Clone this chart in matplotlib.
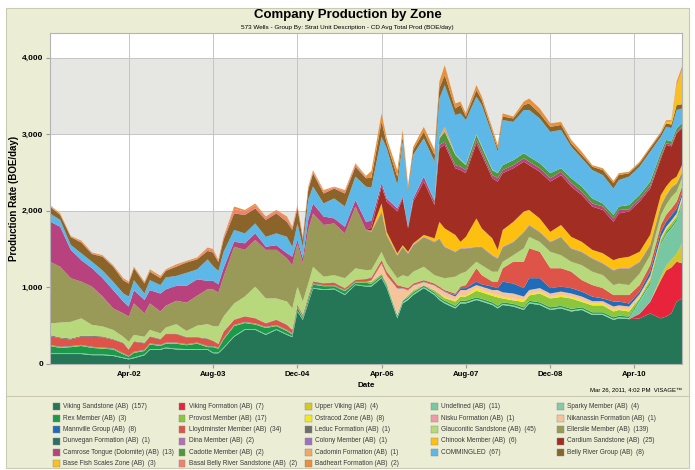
import pandas as pd
import matplotlib
matplotlib.use('Agg')
import matplotlib.pyplot as plt
from matplotlib.patches import Rectangle
from matplotlib.lines import Line2D
from matplotlib.ticker import FuncFormatter

plt.rcParams['font.family'] = ['Liberation Sans', 'DejaVu Sans']

# sample months (vertices of the stacked outline)
dates = ['2001-01', '2001-03', '2001-05', '2001-07', '2001-09', '2001-11', '2002-01', '2002-03', '2002-04', '2002-05',
         '2002-07', '2002-08', '2002-10', '2002-11', '2003-01', '2003-03', '2003-05', '2003-07', '2003-08', '2003-09',
         '2003-10', '2003-12', '2004-02', '2004-04', '2004-06', '2004-08', '2004-10', '2004-11', '2004-12', '2005-01',
         '2005-02', '2005-03', '2005-05', '2005-07', '2005-09', '2005-11', '2006-01', '2006-02', '2006-04', '2006-05',
         '2006-07', '2006-08', '2006-09', '2006-10', '2006-12', '2007-02', '2007-03', '2007-04', '2007-06', '2007-07',
         '2007-08', '2007-10', '2007-11', '2008-01', '2008-02', '2008-03', '2008-05', '2008-07', '2008-08', '2008-10',
         '2008-12', '2009-02', '2009-04', '2009-06', '2009-08', '2009-10', '2009-12', '2010-01', '2010-03', '2010-05',
         '2010-07', '2010-09', '2010-10', '2010-11', '2010-12', '2011-01']

# BOE/day per zone, stacked bottom -> top
viking_sandstone = [130, 130, 130, 130, 115, 115, 105, 75, 60, 75,
                    115, 185, 185, 205, 190, 185, 185, 185, 140, 140,
                    205, 355, 445, 445, 380, 445, 380, 350, 685, 575,
                    790, 985, 965, 975, 900, 1030, 1010, 1010, 1120, 990,
                    595, 790, 835, 900, 990, 900, 835, 790, 725, 790,
                    790, 835, 815, 770, 725, 770, 750, 705, 790, 770,
                    705, 725, 685, 705, 640, 640, 575, 595, 585, 595,
                    660, 595, 620, 660, 815, 855]
viking_formation = [0]*10 + [0]*10 + [0]*10 + [0]*10 + [0]*10 + [0]*10 + \
                   [0, 0, 0, 0, 0, 0, 0, 0, 0, 60] + [150, 500, 600, 600, 520, 460]
upper_viking = [0]*70 + [0, 45, 65, 105, 105, 260]
undefined = [10]*69 + [160, 220, 415, 400, 400, 420, 500]
sparky = [0]*37 + [5]*32 + [10]*7
rex = [95, 70, 80, 95, 85, 75, 75, 40, 25, 60,
       45, 60, 40, 50, 65, 50, 70, 25, 70, 50,
       105, 130, 80, 60, 80, 40, 40, 25, 40, 20,
       40, 40, 40, 30, 40, 20, 40, 20, 20, 20,
       20, 20, 20, 20, 15, 20, 20, 20, 20, 20,
       20, 20, 20, 20, 20, 20, 20, 20, 20, 20,
       20, 20, 20, 20, 20, 20, 20, 20, 20, 20,
       20, 20, 20, 20, 20, 20]
provost = [10, 10, 10, 10, 10, 10, 10, 10, 5, 10,
           10, 10, 10, 10, 10, 10, 10, 10, 10, 10,
           10, 10, 10, 10, 10, 10, 10, 10, 10, 10,
           10, 10, 10, 10, 10, 10, 10, 25, 20, 20,
           5, 5, 25, 25, 5, 25, 45, 35, 55, 55,
           55, 85, 85, 85, 110, 50, 45, 70, 70, 115,
           115, 115, 135, 70, 90, 90, 75, 75, 65, 15,
           40, 35, 35, 40, 35, 35]
ostracod = [0]*40 + [0, 0, 0, 0, 0, 0, 0, 15, 15, 15,
                     15, 30, 25, 25, 25, 20, 20, 20, 20, 20,
                     20, 20, 20, 20, 20, 20, 15, 15, 15, 15,
                     15, 15, 15, 15, 15, 15]
nisku = [0]*37 + [5]*39
nikanassin = [0]*30 + [0, 0, 0, 0, 0, 0, 0, 15, 130, 105,
                       345, 150, 60, 60, 40, 60, 65, 60, 45, 65,
                       65, 40, 45, 45, 65, 55, 65, 45, 45, 45,
                       40, 45, 40, 45, 30, 30, 45, 40, 45, 30,
                       30, 20, 20, 20, 20, 25]
mannville = [5]*48 + [20, 25,
             25, 45, 30, 45, 25, 140, 130, 110, 155, 130,
             70, 65, 70, 65, 60, 35, 65, 50, 40, 35,
             55, 65, 65, 65, 65, 40]
lloydminster = [115, 110, 85, 105, 130, 135, 110, 130, 80, 130,
                85, 85, 70, 110, 110, 85, 65, 90, 65, 45,
                85, 65, 70, 65, 45, 65, 65, 45, 20, 20,
                25, 25, 20, 30, 20, 20, 30, 30, 40, 45,
                40, 20, 25, 20, 20, 20, 20, 20, 20, 20,
                40, 175, 120, 65, 85, 175, 285, 345, 390, 345,
                260, 240, 215, 150, 150, 135, 85, 85, 110, 85,
                85, 90, 90, 90, 90, 90]
leduc = [12, 12, 12, 12, 12, 10, 10, 8, 8, 8,
         8, 8, 8, 8, 8, 8, 8, 8, 5, 5,
         5, 5, 5, 5, 5, 5, 5, 5, 5, 5,
         5, 5, 5, 5, 5, 5, 5, 5, 0, 0] + [0]*36
glauconitic = [153, 193, 218, 228, 143, 130, 120, 77, 97, 82,
               77, 82, 72, 77, 122, 77, 147, 187, 190, 225,
               195, 210, 255, 410, 320, 275, 300, 275, 235, 170,
               165, 190, 85, 95, 130, 150, 115, 100, 110, 110,
               90, 150, 150, 155, 175, 110, 130, 155, 220, 170,
               175, 85, 130, 130, 130, 85, 85, 175, 150, 130,
               215, 170, 130, 195, 175, 170, 130, 150, 130, 150,
               130, 130, 130, 150, 130, 110]
ellerslie = [805, 730, 570, 480, 500, 390, 280, 305, 330, 410,
             305, 345, 285, 285, 305, 370, 390, 455, 480, 440,
             520, 740, 610, 610, 635, 635, 565, 565, 565, 500,
             700, 695, 675, 675, 585, 805, 525, 485, 510, 355,
             285, 355, 290, 335, 375, 420, 485, 395, 310, 315,
             290, 180, 225, 200, 160, 180, 160, 200, 140, 115,
             115, 225, 160, 160, 160, 140, 180, 185, 205, 140,
             120, 115, 115, 115, 95, 70]
dunvegan = [0]*37 + [5]*39
dina = [0]*37 + [5]*39
colony = [0]*37 + [5]*39
chinook = [0]*30 + [0, 0, 0, 0, 0, 0, 0, 10, 105, 40,
                    25, 20, 20, 20, 25, 45, 215, 240, 220, 85,
                    150, 370, 240, 220, 110, 220, 260, 265, 195, 175,
                    130, 155, 150, 130, 110, 130, 130, 130, 150, 130,
                    130, 130, 110, 90, 85, 85]
cardium = [0]*30 + [0, 0, 0, 0, 0, 0, 0, 40, 220, 395,
                    545, 610, 305, 545, 695, 435, 960, 1090, 870, 935,
                    830, 980, 960, 785, 890, 740, 700, 650, 585, 610,
                    655, 650, 655, 610, 565, 565, 500, 585, 590, 655,
                    605, 475, 545, 440, 565, 480]
camrose = [525, 520, 370, 280, 240, 240, 240, 155, 130, 175,
           175, 175, 235, 215, 195, 220, 215, 110, 110, 110,
           110, 65, 85, 85, 40, 60, 65, 110, 45, 65,
           130, 130, 110, 65, 85, 85, 105, 90, 45, 40,
           40, 25, 20, 40, 65, 45, 45, 40, 40, 45,
           40, 45, 40, 40, 45, 40, 40, 45, 45, 45,
           45, 45, 45, 45, 40, 45, 45, 45, 30, 35,
           35, 30, 20, 25, 20, 20]
cadotte = [0]*40 + [0, 0, 0, 0, 0, 20, 85, 130, 135, 85,
                    65, 65, 65, 65, 65, 65, 65, 65, 65, 65,
                    65, 45, 65, 65, 65, 40, 45, 45, 55, 50,
                    55, 55, 45, 40, 45, 45]
cadomin = [0]*40 + [0, 0, 0, 0, 0, 0, 20, 65, 10, 10,
                    10, 10, 10, 10, 0, 0, 0, 0, 0, 0] + [0]*16
commingled = [105, 90, 65, 90, 85, 100, 110, 105, 130, 130,
              85, 130, 110, 155, 130, 170, 130, 280, 195, 175,
              215, 155, 130, 130, 130, 155, 215, 130, 215, 150,
              260, 220, 170, 260, 265, 305, 460, 430, 605, 655,
              305, 715, 460, 570, 500, 500, 500, 545, 510, 600,
              580, 490, 535, 450, 280, 590, 500, 565, 610, 585,
              540, 500, 410, 370, 370, 370, 345, 345, 370, 370,
              390, 200, 170, 175, 240, 195]
belly_river = [90, 65, 100, 140, 100, 180, 195, 170, 170, 155,
               130, 110, 90, 85, 120, 135, 130, 110, 175, 115,
               155, 215, 240, 195, 220, 260, 195, 220, 195, 90,
               130, 175, 130, 130, 170, 130, 110, 130, 195, 65,
               110, 65, 40, 65, 85, 90, 135, 130, 85, 110,
               45, 85, 65, 40, 45, 45, 45, 65, 85, 65,
               65, 65, 45, 45, 45, 65, 70, 65, 45, 45,
               45, 45, 45, 45, 65, 55]
base_fish_scales = [0]*70 + [0, 0, 20, 40, 260, 445]
basal_belly_river = [8, 8, 5, 10, 8, 8, 8, 12, 10, 8,
                     10, 12, 12, 8, 12, 8, 10, 25, 25, 20,
                     25, 60, 45, 45, 30, 30, 45, 25, 30, 25,
                     30, 25, 25, 15, 30, 30, 15, 10, 0, 0] + [0]*36
badheart = [12, 12, 10, 15, 12, 12, 12, 18, 15, 12,
            15, 18, 18, 12, 18, 12, 15, 20, 20, 10,
            15, 30, 20, 20, 15, 15, 25, 15, 15, 15,
            15, 15, 20, 10, 15, 15, 15, 80, 110, 65,
            85, 90, 45, 40, 65, 65, 85, 130, 65, 45,
            40, 65, 45, 45, 45, 40, 25, 45, 65, 65,
            45, 40, 45, 40, 20, 25, 30, 25, 20, 20,
            20, 20, 20, 20, 45, 45]

zones = ['Viking Sandstone (AB)  (157)', 'Viking Formation (AB)  (7)', 'Upper Viking (AB)  (4)',
         'Undefined (AB)  (11)', 'Sparky Member (AB)  (4)', 'Rex Member (AB)  (3)',
         'Provost Member (AB)  (17)', 'Ostracod Zone (AB)  (8)', 'Nisku Formation (AB)  (1)',
         'Nikanassin Formation (AB)  (1)', 'Mannville Group (AB)  (8)', 'Lloydminster Member (AB)  (34)',
         'Leduc Formation (AB)  (1)', 'Glauconitic Sandstone (AB)  (45)', 'Ellerslie Member (AB)  (139)',
         'Dunvegan Formation (AB)  (1)', 'Dina Member (AB)  (2)', 'Colony Member (AB)  (1)',
         'Chinook Member (AB)  (6)', 'Cardium Sandstone (AB)  (25)', 'Camrose Tongue (Dolomite) (AB)  (13)',
         'Cadotte Member (AB)  (2)', 'Cadomin Formation (AB)  (1)', 'COMMINGLED  (67)',
         'Belly River Group (AB)  (8)', 'Base Fish Scales Zone (AB)  (3)',
         'Basal Belly River Sandstone (AB)  (2)', 'Badheart Formation (AB)  (2)']
series = [viking_sandstone, viking_formation, upper_viking, undefined, sparky, rex, provost,
          ostracod, nisku, nikanassin, mannville, lloydminster, leduc, glauconitic, ellerslie,
          dunvegan, dina, colony, chinook, cardium, camrose, cadotte, cadomin, commingled,
          belly_river, base_fish_scales, basal_belly_river, badheart]
colors = ['#247657', '#e8243c', '#d3c72c', '#76c7a2', '#82caa8', '#1b9a4a', '#8cc63f',
          '#f2ea1e', '#f09aa8', '#f5c49a', '#1f6db8', '#de5448', '#6e6e6e', '#b8d87c',
          '#9a9a58', '#2b7068', '#b070b8', '#a070c0', '#fdc010', '#a22d22', '#b8427e',
          '#4c9a3c', '#f0a868', '#5db8e8', '#8a6428', '#f8c020', '#f08070', '#e8903c']

x = pd.to_datetime(dates)

fig = plt.figure(figsize=(6.95, 4.70), dpi=100)
fig.patch.set_facecolor('white')
W, H = 695, 470

def fx(px):
    return px / W

def fy(py):
    return 1 - py / H

# panel background and frame
fig.add_artist(Rectangle((fx(6), fy(468)), fx(689) - fx(6), fy(8) - fy(468), transform=fig.transFigure,
                         facecolor='#ecedd5', edgecolor='#c9c9b4', linewidth=0.8, zorder=-10))
fig.add_artist(Line2D([fx(6), fx(689)], [fy(396), fy(396)], transform=fig.transFigure,
                      color='#c9c9b4', linewidth=0.8))

ax = fig.add_axes([fx(50), fy(364), fx(682) - fx(50), fy(33) - fy(364)])
ax.set_facecolor('white')
for lo, hi in [(1000, 2000), (3000, 4000)]:
    ax.axhspan(lo, hi, color='#e6e6e2', zorder=0, linewidth=0)

ax.stackplot(x, *series, colors=colors, linewidth=0, zorder=2)

ticks = pd.to_datetime(['2002-04', '2003-08', '2004-12', '2006-04', '2007-08', '2008-12', '2010-04'])
ax.set_xticks(ticks)
ax.set_xticklabels([t.strftime('%b-%y') for t in ticks], fontsize=5.6, fontweight='bold')
ax.set_xlim(x[0], x[-1])
ax.set_ylim(0, 4320)
ax.set_yticks([0, 1000, 2000, 3000, 4000])
ax.yaxis.set_major_formatter(FuncFormatter(lambda v, p: f'{int(v):,}'))
ax.tick_params(axis='y', labelsize=6, length=3, color='#999999', pad=2)
ax.tick_params(axis='x', length=3, color='#999999', pad=2)
for lab in ax.get_yticklabels():
    lab.set_fontweight('bold')
ax.grid(True, color='#c6c6c6', linewidth=0.7, zorder=1)
ax.set_axisbelow(True)
for s in ax.spines.values():
    s.set_color('#b4b4b4')
    s.set_linewidth(0.8)

ax.set_xlabel('Date', fontsize=5.8, fontweight='bold', labelpad=3)
ax.set_ylabel('Production Rate (BOE/day)', fontsize=7, fontweight='bold', labelpad=2)

fig.text(0.5, fy(15), 'Company Production by Zone', ha='center', va='center', fontsize=9.5, fontweight='bold')
fig.text(0.5, fy(27), '573 Wells - Group By: Strat Unit Description - CD Avg Total Prod (BOE/day)',
         ha='center', va='center', fontsize=4.6)
fig.text(fx(682), fy(390), 'Mar 26, 2011, 4:02 PM  VISAGE\u2122', ha='right', va='center', fontsize=4.3)

# legend laid out row by row, 5 columns
col_x = [53, 179, 305, 431, 557]
row_y = [406, 418, 429.5, 441, 452, 463.5]
for i, name in enumerate(zones):
    r, c = divmod(i, 5)
    fig.add_artist(Rectangle((fx(col_x[c]), fy(row_y[r] + 3.5)), fx(6.5), 7 / H, transform=fig.transFigure,
                             facecolor=colors[i], edgecolor='#8a8a80', linewidth=0.3))
    fig.text(fx(col_x[c] + 10), fy(row_y[r]), name, ha='left', va='center', fontsize=4.7, color='#3a3a3a')

fig.savefig('out.png', dpi=100, facecolor=fig.get_facecolor())
